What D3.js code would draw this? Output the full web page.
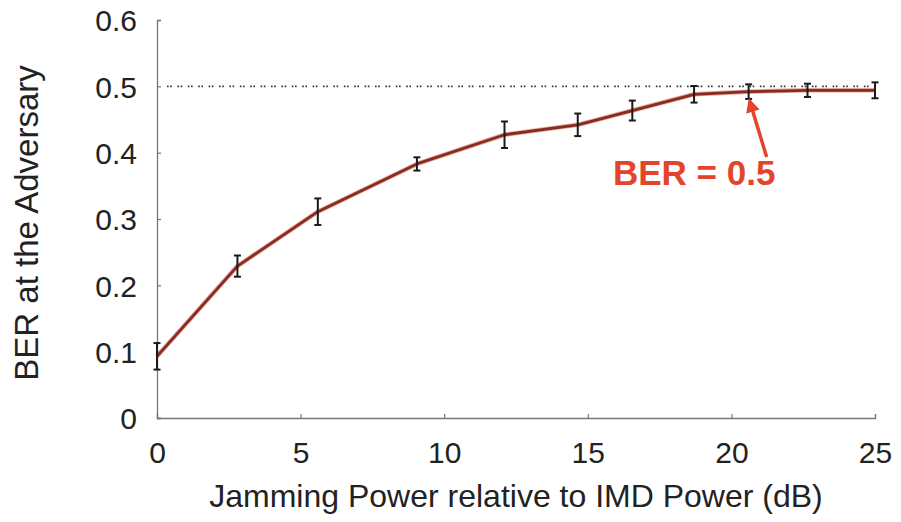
<!DOCTYPE html>
<html>
<head>
<meta charset="utf-8">
<script src="https://cdn.jsdelivr.net/npm/d3@7"></script>
<style>
  body { margin: 0; background: #fff; }
  svg text { font-family: "Liberation Sans", Arial, sans-serif; fill: #222; }
</style>
</head>
<body>
<div id="chart"></div>
<script>
/* DATA */
const jamPower = [0, 2.8, 5.6, 9.05, 12.1, 14.65, 16.55, 18.7, 20.6, 22.65, 25];
const berValues = [0.093, 0.229, 0.311, 0.383, 0.427, 0.442, 0.4635, 0.488, 0.492, 0.494, 0.494];
const berErrors = [0.02, 0.016, 0.02, 0.01, 0.02, 0.017, 0.015, 0.0125, 0.011, 0.01, 0.012];
const xTicks = [0, 5, 10, 15, 20, 25];
const yTicks = [0, 0.1, 0.2, 0.3, 0.4, 0.5, 0.6];
const refLevel = 0.5;
const annotation = "BER = 0.5";
const xTitle = "Jamming Power relative to IMD Power (dB)";
const yTitle = "BER at the Adversary";

/* CONSTANTS */
const width = 901,
  height = 522,
  margin = { top: 20, bottom: 104, left: 157, right: 26 };

const data = jamPower.map((x, i) => ({ x: x, y: berValues[i], e: berErrors[i] }));

const svg = d3.select("#chart")
  .append("svg")
  .attr("width", width)
  .attr("height", height);

// scales
const xScale = d3.scaleLinear()
  .domain([0, 25])
  .range([margin.left, width - margin.right]);

const yScale = d3.scaleLinear()
  .domain([0, 0.6])
  .range([height - margin.bottom, margin.top]);

// axes (ticks point inward like the original)
const xAxis = d3.axisBottom(xScale)
  .tickValues(xTicks)
  .tickSize(-4)
  .tickPadding(24)
  .tickFormat(d3.format("d"));

const yAxis = d3.axisLeft(yScale)
  .tickValues(yTicks)
  .tickSize(-4)
  .tickPadding(20)
  .tickFormat(d => d === 0 ? "0" : d3.format(".1f")(d));

const gx = svg.append("g")
  .attr("class", "axis x-axis")
  .attr("transform", `translate(0,${yScale(0)})`)
  .call(xAxis);

const gy = svg.append("g")
  .attr("class", "axis y-axis")
  .attr("transform", `translate(${xScale(0)},0)`)
  .call(yAxis);

[gx, gy].forEach(g => {
  g.select(".domain").attr("stroke", "#777").attr("stroke-width", 1.3);
  g.selectAll(".tick line").attr("stroke", "#777").attr("stroke-width", 1.2);
  g.selectAll(".tick text")
    .attr("font-size", 30)
    .attr("font-family", "Liberation Sans, Arial, sans-serif")
    .attr("fill", "#222");
});
gx.selectAll(".tick text").attr("dy", "0.71em");
gy.selectAll(".tick text").attr("dy", "0.36em");

// axis titles
svg.append("text")
  .attr("x", (xScale(0) + xScale(25)) / 2)
  .attr("y", 507)
  .attr("text-anchor", "middle")
  .attr("font-size", 32)
  .text(xTitle);

svg.append("text")
  .attr("transform", `translate(38,${223}) rotate(-90)`)
  .attr("text-anchor", "middle")
  .attr("font-size", 33)
  .text(yTitle);

// dotted reference line at BER = 0.5
svg.append("line")
  .attr("x1", xScale(0.35))
  .attr("x2", xScale(25))
  .attr("y1", yScale(refLevel))
  .attr("y2", yScale(refLevel))
  .attr("stroke", "#333")
  .attr("stroke-width", 1.6)
  .attr("stroke-dasharray", "1.6,1.6,1.6,5.6");

// the curve
const line = d3.line()
  .x(d => xScale(d.x))
  .y(d => yScale(d.y));

svg.append("path")
  .datum(data)
  .attr("fill", "none")
  .attr("stroke", "#c0563a")
  .attr("stroke-opacity", 0.5)
  .attr("stroke-width", 4.5)
  .attr("stroke-linejoin", "round")
  .attr("d", line);

svg.append("path")
  .datum(data)
  .attr("fill", "none")
  .attr("stroke", "#8c2a22")
  .attr("stroke-width", 2.8)
  .attr("stroke-linejoin", "round")
  .attr("d", line);

// error bars
const bars = svg.selectAll(".err")
  .data(data)
  .join("g")
  .attr("class", "err")
  .attr("stroke", "#1a1a1a")
  .attr("stroke-width", 2);

bars.append("line")
  .attr("x1", d => xScale(d.x))
  .attr("x2", d => xScale(d.x))
  .attr("y1", d => yScale(d.y + d.e))
  .attr("y2", d => yScale(d.y - d.e));

bars.append("line")
  .attr("x1", d => xScale(d.x) - 3.5)
  .attr("x2", d => xScale(d.x) + 3.5)
  .attr("y1", d => yScale(d.y + d.e))
  .attr("y2", d => yScale(d.y + d.e));

bars.append("line")
  .attr("x1", d => xScale(d.x) - 3.5)
  .attr("x2", d => xScale(d.x) + 3.5)
  .attr("y1", d => yScale(d.y - d.e))
  .attr("y2", d => yScale(d.y - d.e));

// annotation arrow + label
const red = "#e2452b";
const tip = { x: xScale(jamPower[8]) + 1, y: yScale(berValues[8] - berErrors[8]) + 2 };
const tail = { x: tip.x + 17, y: tip.y + 56 };

svg.append("defs").append("marker")
  .attr("id", "head")
  .attr("viewBox", "0 0 10 10")
  .attr("refX", 8)
  .attr("refY", 5)
  .attr("markerWidth", 4)
  .attr("markerHeight", 4)
  .attr("orient", "auto")
  .append("path")
  .attr("d", "M0,0 L10,5 L0,10 Z")
  .attr("fill", red);

svg.append("line")
  .attr("x1", tail.x)
  .attr("y1", tail.y)
  .attr("x2", tip.x)
  .attr("y2", tip.y)
  .attr("stroke", red)
  .attr("stroke-width", 3.5)
  .attr("marker-end", "url(#head)");

svg.append("text")
  .attr("x", 613)
  .attr("y", 185)
  .attr("font-size", 35)
  .attr("font-weight", "bold")
  .style("fill", red)
  .text(annotation);
</script>
</body>
</html>
